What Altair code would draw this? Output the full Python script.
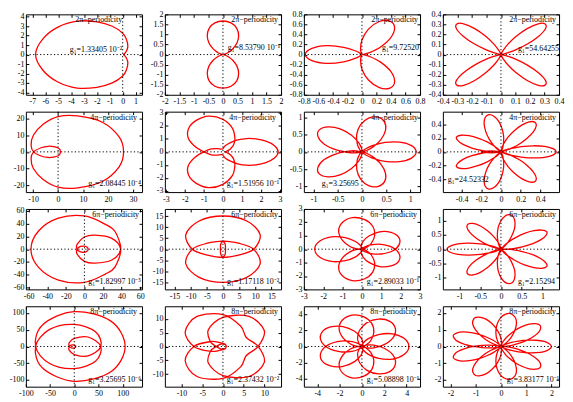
import altair as alt
import pandas as pd

W, H = 117, 81
FONT = "Liberation Serif"

# ---------------- half-period polar samples: theta (deg), r ----------------
TH_11 = [0, 20, 35, 50, 65, 80, 90, 105, 120, 135, 150, 165, 180]
R_11 = [0.08, 0.09, 0.17, 0.42, 0.95, 1.65, 2.26, 3.1, 3.99, 5.0, 5.8, 6.4, 6.75]

TH_12 = [0, 10, 20, 30, 40, 50, 60, 70, 80, 90, 100, 110, 120, 130, 140, 150, 160, 170, 180]
R_12 = [0, 0.01, 0.07, 0.21, 0.44, 0.75, 1.08, 1.39, 1.6, 1.67, 1.6, 1.39, 1.08, 0.75, 0.44, 0.21, 0.07, 0.01, 0]

TH_13 = [0, 10, 20, 30, 40, 50, 60, 70, 80, 90, 100, 110, 120, 130, 140, 150, 160, 170, 180]
R_13 = [0, 0.018, 0.11, 0.29, 0.515, 0.70, 0.77, 0.70, 0.515, 0.29, 0.11, 0.018, 0, 0.018, 0.11, 0.29, 0.515, 0.70, 0.78]

TH_14 = [0, 10, 15, 20, 25, 30, 35, 40, 45, 50, 55, 60, 65, 70, 75, 80, 90,
         100, 105, 110, 115, 120, 125, 130, 135, 140, 145, 150, 155, 160, 165, 170, 180]
R_14 = [0, 0.002, 0.013, 0.047, 0.115, 0.21, 0.315, 0.40, 0.43, 0.40, 0.315, 0.21, 0.115, 0.047, 0.013, 0.002, 0,
        0.002, 0.013, 0.047, 0.115, 0.21, 0.315, 0.40, 0.43, 0.40, 0.315, 0.21, 0.115, 0.047, 0.013, 0.002, 0]

TH_21 = [0, 30, 60, 90, 120, 140, 160, 180, 200, 225, 250, 270, 290, 315, 340, 360]
R_21 = [0.9, 1.0, 1.5, 2.3, 3.6, 5.2, 7.2, 9.8, 11.5, 14, 17.5, 21, 22.8, 25, 26, 26.2]

TH_22 = [0, 10, 20, 30, 40, 50, 60, 75, 90, 110, 135, 160, 180, 195, 210, 225, 240, 255, 270, 285, 300, 315, 330, 345, 360]
R_22 = [2.9, 2.75, 2.4, 2.0, 1.6, 1.2, 0.85, 0.5, 0.25, 0.22, 0.35, 0.65, 1.0, 1.5, 2.1, 2.55, 2.8, 2.85, 2.5, 1.9, 1.25, 0.8, 0.45, 0.2, 0.1]

TH_23 = [0, 10, 20, 30, 40, 50, 60, 72, 84, 94, 104, 114, 124, 134, 144, 154, 164, 174, 184, 194, 204, 216,
         228, 238, 248, 258, 268, 278, 288, 298, 308, 318, 328, 338, 345, 352, 360]
R_23 = [1.12, 1.04, 0.83, 0.55, 0.28, 0.1, 0.02, 0.01, 0.02, 0.1, 0.27, 0.53, 0.81, 1.01, 1.09, 1.01, 0.81, 0.53, 0.27, 0.1, 0.02, 0.01,
        0.02, 0.1, 0.26, 0.52, 0.79, 0.99, 1.06, 0.99, 0.79, 0.52, 0.26, 0.1, 0.0, -0.2, -0.35]

TH_24 = [0, 5, 10, 15, 20, 25, 30, 40, 51.4,
         62.9, 72.9, 77.9, 82.9, 87.9, 92.9, 97.9, 102.9, 107.9, 112.9, 117.9, 122.9, 127.9, 132.9, 142.9, 154.3,
         165.7, 175.7, 180.7, 185.7, 190.7, 195.7, 200.7, 205.7, 210.7, 215.7, 220.7, 225.7, 230.7, 235.7, 245.7, 257.1,
         268.6, 278.6, 283.6, 288.6, 293.6, 298.6, 303.6, 308.6, 313.6, 318.6, 323.6, 328.6, 333.6, 338.6, 345, 352, 360]
R_24 = [0.56, 0.53, 0.45, 0.34, 0.22, 0.12, 0.056, 0.006, 0.0,
        0.006, 0.055, 0.12, 0.22, 0.33, 0.44, 0.52, 0.55, 0.52, 0.44, 0.33, 0.22, 0.12, 0.055, 0.006, 0.0,
        0.005, 0.05, 0.11, 0.2, 0.3, 0.4, 0.47, 0.5, 0.47, 0.4, 0.3, 0.2, 0.11, 0.05, 0.005, 0.0,
        0.006, 0.055, 0.12, 0.22, 0.33, 0.44, 0.52, 0.55, 0.52, 0.44, 0.33, 0.22, 0.12, 0.055, 0.0, -0.1, -0.2]

TH_31 = [0, 45, 90, 135, 180, 225, 270, 297, 330, 360, 400, 420, 450, 480, 510, 540]
R_31 = [4.0, 4.2, 4.8, 6.0, 8.0, 11, 19, 24.6, 34, 39, 43, 45, 52, 56, 57, 57.5]

TH_32 = [0, 30, 50, 65, 75, 85, 95, 120, 150, 180, 210, 240, 270, 300, 330, 360, 390, 420, 445, 455, 465, 475, 490, 510, 540]
R_32 = [0.8, 0.9, 1.2, 1.8, 2.5, 3.3, 3.7, 4.0, 5.5, 9.5, 13.3, 14.8, 15.1, 14.8, 13.3, 9.5, 5.5, 4.0, 3.7, 3.3, 2.5, 1.8, 1.2, 0.9, 0.8]

TH_33 = [0, 12, 27, 42, 57, 72, 87, 102, 117, 132, 147, 162, 177, 192, 218,
         245, 260, 275, 290, 305, 320, 335, 350, 365, 380, 395, 410, 425, 437,
         450, 465, 480, 495, 510, 525, 540]
R_33 = [0.03, 0.1, 0.26, 0.65, 1.2, 1.8, 2.23, 2.4, 2.23, 1.8, 1.2, 0.65, 0.26, 0.1, 0.04,
        0.08, 0.23, 0.57, 1.05, 1.58, 1.95, 2.1, 1.95, 1.58, 1.05, 0.57, 0.23, 0.08, 0.04,
        0.1, 0.27, 0.66, 1.22, 1.83, 2.27, 2.44]

TH_34 = [0, 40, 50, 55, 60, 65, 70, 75, 80, 85, 90, 95, 100, 105, 110, 120, 154,
         188, 198, 203, 208, 213, 218, 223, 228, 233, 238, 243, 248, 253, 258, 268, 308,
         349, 359, 364, 369, 374, 379, 384, 389, 394, 399, 404, 409, 414, 419, 429, 465,
         500, 510, 515, 520, 525, 530, 535, 540]
R_34 = [0.01, 0.02, 0.14, 0.29, 0.5, 0.76, 0.99, 1.16, 1.22, 1.16, 0.99, 0.76, 0.5, 0.29, 0.14, 0.02, 0.0,
        0.02, 0.135, 0.28, 0.48, 0.73, 0.96, 1.12, 1.18, 1.12, 0.96, 0.73, 0.48, 0.28, 0.135, 0.02, 0.0,
        0.02, 0.145, 0.3, 0.52, 0.79, 1.02, 1.19, 1.26, 1.19, 1.02, 0.79, 0.52, 0.3, 0.145, 0.02, 0.0,
        0.02, 0.15, 0.31, 0.53, 0.81, 1.05, 1.23, 1.3]

TH_41 = [0, 45, 90, 135, 180, 225, 270, 315, 360, 405, 450, 495, 540, 585, 630, 675, 720]
R_41 = [3, 3.3, 4.2, 6.5, 10, 15, 24, 40, 55, 62, 66, 72, 80, 92, 104, 107, 105]

TH_42 = [0, 60, 120, 150, 180, 210, 240, 270, 300, 330, 360, 390, 420, 450, 480, 510, 540, 600, 660, 720]
R_42 = [0.8, 1.0, 1.6, 3.5, 7, 10.5, 12.5, 11.5, 8.5, 6.5, 8.5, 11.5, 12.5, 10.5, 7, 3.5, 1.6, 1.0, 0.9, 0.8]

TH_43 = [0, 13, 28, 43, 58, 73, 88, 102.9, 118, 133, 148, 163, 178, 193, 205.7,
         218.6, 233.6, 248.6, 263.6, 278.6, 293.6, 308.6, 323.6, 338.6, 353.6, 368.6, 383.6, 398.6, 411.4,
         424.3, 439.3, 454.3, 469.3, 484.3, 499.3, 514.3, 529.3, 544.3, 559.3, 574.3, 589.3, 604.3, 617.1,
         630, 645, 660, 675, 690, 705, 720]
R_43 = [0.08, 0.16, 0.44, 1.08, 2.0, 3.0, 3.72, 4.0, 3.72, 3.0, 2.0, 1.08, 0.44, 0.16, 0.08,
        0.16, 0.44, 1.08, 2.0, 3.0, 3.72, 4.0, 3.72, 3.0, 2.0, 1.08, 0.44, 0.16, 0.08,
        0.16, 0.44, 1.08, 2.0, 3.0, 3.72, 4.0, 3.72, 3.0, 2.0, 1.08, 0.44, 0.16, 0.08,
        0.17, 0.46, 1.13, 2.1, 3.15, 3.9, 4.2]

TH_44 = [0, 30, 40, 50, 55, 60, 65, 70, 75, 80, 85, 90, 95, 100, 105, 110, 120, 130, 160,
         190, 200, 210, 215, 220, 225, 230, 235, 240, 245, 250, 255, 260, 265, 270, 280, 290, 320,
         350, 360, 370, 375, 380, 385, 390, 395, 400, 405, 410, 415, 420, 425, 430, 440, 450, 480,
         510, 520, 530, 535, 540, 545, 550, 555, 560, 565, 570, 575, 580, 585, 590, 600, 610, 640,
         670, 680, 690, 695, 700, 705, 710, 715, 720]
R_44 = [0.005, 0.02, 0.14, 0.48, 0.76, 1.1, 1.44, 1.74, 1.92, 2.0, 1.92, 1.74, 1.44, 1.1, 0.76, 0.48, 0.14, 0.02, 0.005,
        0.02, 0.14, 0.48, 0.76, 1.1, 1.44, 1.74, 1.92, 2.0, 1.92, 1.74, 1.44, 1.1, 0.76, 0.48, 0.14, 0.02, 0.005,
        0.02, 0.14, 0.48, 0.76, 1.1, 1.44, 1.74, 1.92, 2.0, 1.92, 1.74, 1.44, 1.1, 0.76, 0.48, 0.14, 0.02, 0.005,
        0.02, 0.14, 0.48, 0.76, 1.1, 1.44, 1.74, 1.92, 2.0, 1.92, 1.74, 1.44, 1.1, 0.76, 0.48, 0.14, 0.02, 0.005,
        0.02, 0.14, 0.48, 0.76, 1.1, 1.44, 1.74, 1.92, 2.0]

# periodicity multiplier k (period = 2*pi*k)
K = [1, 1, 1, 1, 2, 2, 2, 2, 3, 3, 3, 3, 4, 4, 4, 4]

X_DOM = [[-7.5, 1.5], [-2, 2], [-0.8, 0.8], [-0.4, 0.4],
         [-12.9, 33.6], [-3.05, 3.05], [-1.2, 1.2], [-0.59, 0.59],
         [-63, 62], [-18, 18], [-3, 3], [-1.4, 1.4],
         [-100, 140], [-14, 14], [-5.2, 5.2], [-2.3, 2.3]]
Y_DOM = [[-4.25, 4.25], [-2, 2], [-0.8, 0.8], [-0.4, 0.4],
         [-24, 24], [-3.1, 3.1], [-1.17, 1.17], [-0.58, 0.58],
         [-63, 63], [-18.3, 18.3], [-3, 3], [-1.4, 1.4],
         [-120, 120], [-14.5, 14.5], [-5, 5], [-2.4, 2.4]]
X_TICKS = [[-7, -6, -5, -4, -3, -2, -1, 0, 1], [-2, -1.5, -1, -0.5, 0, 0.5, 1, 1.5, 2],
           [-0.8, -0.6, -0.4, -0.2, 0, 0.2, 0.4, 0.6, 0.8], [-0.4, -0.3, -0.2, -0.1, 0, 0.1, 0.2, 0.3, 0.4],
           [-10, 0, 10, 20, 30], [-3, -2, -1, 0, 1, 2, 3], [-1, -0.5, 0, 0.5, 1], [-0.4, -0.2, 0, 0.2, 0.4],
           [-60, -40, -20, 0, 20, 40, 60], [-15, -10, -5, 0, 5, 10, 15], [-3, -2, -1, 0, 1, 2, 3], [-1, -0.5, 0, 0.5, 1],
           [-100, -50, 0, 50, 100], [-10, -5, 0, 5, 10], [-4, -2, 0, 2, 4], [-2, -1, 0, 1, 2]]
Y_TICKS = [[-4, -3, -2, -1, 0, 1, 2, 3, 4], [-2, -1.5, -1, -0.5, 0, 0.5, 1, 1.5, 2],
           [-0.8, -0.6, -0.4, -0.2, 0, 0.2, 0.4, 0.6, 0.8], [-0.4, -0.3, -0.2, -0.1, 0, 0.1, 0.2, 0.3, 0.4],
           [-20, -10, 0, 10, 20], [-3, -2, -1, 0, 1, 2, 3], [-1, -0.5, 0, 0.5, 1], [-0.4, -0.2, 0, 0.2, 0.4],
           [-60, -40, -20, 0, 20, 40, 60], [-15, -10, -5, 0, 5, 10, 15], [-3, -2, -1, 0, 1, 2, 3], [-1, -0.5, 0, 0.5, 1],
           [-100, -50, 0, 50, 100], [-10, -5, 0, 5, 10], [-4, -2, 0, 2, 4], [-2, -1, 0, 1, 2]]

TITLES = ["2π−periodicity"] * 4 + ["4π−periodicity"] * 4 + ["6π−periodicity"] * 4 + ["8π−periodicity"] * 4
G1 = ["g₁=1.33405  10⁻²", "g₁=8.53790  10⁻¹", "g₁=9.72520", "g₁=54.64255",
      "g₁=2.08445  10⁻⁴", "g₁=1.51956  10⁻¹", "g₁=3.25695", "g₁=24.52332",
      "g₁=1.82997  10⁻⁵", "g₁=1.17118  10⁻²", "g₁=2.89033  10⁻¹", "g₁=2.15294",
      "g₁=3.25695  10⁻⁶", "g₁=2.37432  10⁻²", "g₁=5.08898  10⁻¹", "g₁=3.83177  10⁻¹"]
# label placement inside the plot area (pixels): title right end, g1 anchor
TITLE_X = [97, 114, 115, 114, 112, 112, 115, 114, 114, 114, 114, 114, 112, 114, 114, 114]
G1_X = [97, 116, 116, 117, 116, 115, 18, 5, 116, 115, 116, 113, 116, 115, 116, 117]
G1_Y = [36, 34, 34, 35, 73, 73, 73, 69, 74, 74, 74, 74, 74, 74, 74, 74]
G1_ALIGN = ["right"] * 6 + ["left", "left"] + ["right"] * 8

CURVES = [(TH_11, R_11), (TH_12, R_12), (TH_13, R_13), (TH_14, R_14),
          (TH_21, R_21), (TH_22, R_22), (TH_23, R_23), (TH_24, R_24),
          (TH_31, R_31), (TH_32, R_32), (TH_33, R_33), (TH_34, R_34),
          (TH_41, R_41), (TH_42, R_42), (TH_43, R_43), (TH_44, R_44)]


def full_curve(th, r, k):
    period = 360 * k
    th_full = list(th) + [period - t for t in reversed(th[1:-1])]
    r_full = list(r) + list(reversed(r[1:-1]))
    return pd.DataFrame({"i": list(range(len(th_full))), "theta": th_full, "r": r_full})


def tick_axis(orient, values, labels):
    common = dict(orient=orient, values=values, tickSize=3, offset=-3, domain=False, grid=False,
                  tickColor="black", tickWidth=1, title=None)
    if labels:
        pad = 3 if orient == "bottom" else 2
        return alt.Axis(labels=True, labelFont=FONT, labelFontSize=8, labelColor="black",
                        labelPadding=pad, labelExpr="'' + datum.value", labelOverlap=False,
                        labelFlush=False, **common)
    return alt.Axis(labels=False, minExtent=0, maxExtent=0, **common)


def make_panel(idx):
    th, r = CURVES[idx]
    df = full_curve(th, r, K[idx])
    xs = alt.Scale(domain=X_DOM[idx], nice=False, zero=False)
    ys = alt.Scale(domain=Y_DOM[idx], nice=False, zero=False)
    curve = alt.Chart(df).transform_calculate(
        x="datum.r * cos(datum.theta * PI / 180)",
        y="datum.r * sin(datum.theta * PI / 180)",
    ).mark_line(color="#ff0000", strokeWidth=1.3, interpolate="cardinal-closed", clip=True).encode(
        x=alt.X("x:Q", scale=xs, axis=tick_axis("bottom", X_TICKS[idx], True)),
        y=alt.Y("y:Q", scale=ys, axis=tick_axis("left", Y_TICKS[idx], True)),
        order="i:Q",
    )
    zero = pd.DataFrame({"v": [0]})
    vrule = alt.Chart(zero).mark_rule(color="black", strokeDash=[1.2, 2.3], strokeWidth=1).encode(
        x=alt.X("v:Q", scale=xs, axis=tick_axis("top", X_TICKS[idx], False)))
    hrule = alt.Chart(zero).mark_rule(color="black", strokeDash=[1.2, 2.3], strokeWidth=1).encode(
        y=alt.Y("v:Q", scale=ys, axis=tick_axis("right", Y_TICKS[idx], False)))
    t1 = alt.Chart(pd.DataFrame({"t": [TITLES[idx]]})).mark_text(
        align="right", baseline="middle", font=FONT, fontSize=8, color="black").encode(
        x=alt.value(TITLE_X[idx]), y=alt.value(6), text="t:N")
    t2 = alt.Chart(pd.DataFrame({"t": [G1[idx]]})).mark_text(
        align=G1_ALIGN[idx], baseline="middle", font=FONT, fontSize=8, color="black").encode(
        x=alt.value(G1_X[idx]), y=alt.value(G1_Y[idx]), text="t:N")
    return alt.layer(curve, vrule, hrule, t1, t2).resolve_axis(
        x="independent", y="independent").properties(width=W, height=H)


panels = [make_panel(i) for i in range(16)]
chart = alt.concat(*panels, columns=4, spacing={"row": 17, "column": 23}, bounds="flush").properties(
    padding={"left": 0, "top": 0, "right": 0, "bottom": 0}, background="white"
).configure_view(stroke="black", strokeWidth=1)

chart.save("out.html", embed_options={"renderer": "svg", "actions": False})
